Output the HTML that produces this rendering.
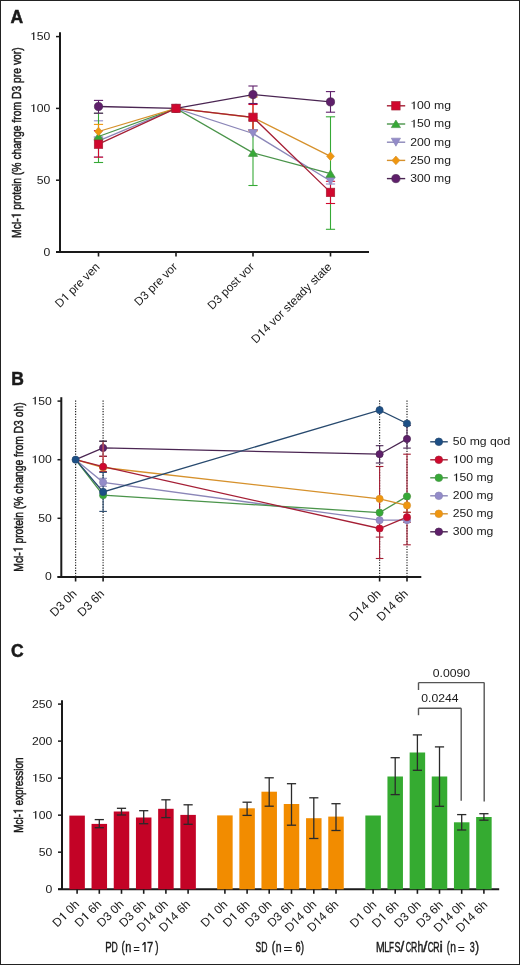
<!DOCTYPE html>
<html><head><meta charset="utf-8"><style>
html,body{margin:0;padding:0;background:#fff;}
svg{display:block;font-family:"Liberation Sans", sans-serif;will-change:transform;font-kerning:none;}
</style></head><body>
<svg width="520" height="965" viewBox="0 0 520 965">
<rect x="0.5" y="0.5" width="519" height="964" fill="#fff" stroke="#222" stroke-width="1"/>
<text x="10.60" y="22.80" font-size="17.5" text-anchor="start" fill="#1a1a1a" font-weight="bold" stroke="#1a1a1a" stroke-width="0.5">A</text>
<text x="11.20" y="384.90" font-size="17.5" text-anchor="start" fill="#1a1a1a" font-weight="bold" stroke="#1a1a1a" stroke-width="0.5">B</text>
<text x="11.10" y="656.80" font-size="17.5" text-anchor="start" fill="#1a1a1a" font-weight="bold" stroke="#1a1a1a" stroke-width="0.5">C</text>
<line x1="60.00" y1="32.30" x2="60.00" y2="253.00" stroke="#1a1a1a" stroke-width="2" />
<line x1="56.00" y1="252.00" x2="369.00" y2="252.00" stroke="#1a1a1a" stroke-width="2" />
<line x1="56.00" y1="252.00" x2="60.00" y2="252.00" stroke="#1a1a1a" stroke-width="1.5" />
<g transform="translate(50.30,255.50) scale(1.11,1)"><text x="-6.12" y="0" font-size="11" fill="#1a1a1a" >0</text></g>
<line x1="56.00" y1="180.20" x2="60.00" y2="180.20" stroke="#1a1a1a" stroke-width="1.5" />
<g transform="translate(50.30,183.70) scale(1.11,1)"><text x="-12.24" y="0" font-size="11" fill="#1a1a1a" >50</text></g>
<line x1="56.00" y1="108.40" x2="60.00" y2="108.40" stroke="#1a1a1a" stroke-width="1.5" />
<g transform="translate(50.30,111.90) scale(1.11,1)"><text x="-18.35" y="0" font-size="11" fill="#1a1a1a" > 00</text><path d="M-14.37,0.00 L-14.37,-7.73 L-15.14,-7.73 C-15.36,-7.04 -16.10,-6.51 -17.24,-6.45 L-17.24,-5.74 C-16.37,-5.79 -15.77,-6.00 -15.47,-6.31 L-15.47,0.00 Z" fill="#1a1a1a" /></g>
<line x1="56.00" y1="36.60" x2="60.00" y2="36.60" stroke="#1a1a1a" stroke-width="1.5" />
<g transform="translate(50.30,40.10) scale(1.11,1)"><text x="-18.35" y="0" font-size="11" fill="#1a1a1a" > 50</text><path d="M-14.37,0.00 L-14.37,-7.73 L-15.14,-7.73 C-15.36,-7.04 -16.10,-6.51 -17.24,-6.45 L-17.24,-5.74 C-16.37,-5.79 -15.77,-6.00 -15.47,-6.31 L-15.47,0.00 Z" fill="#1a1a1a" /></g>
<line x1="98.50" y1="252.00" x2="98.50" y2="256.50" stroke="#1a1a1a" stroke-width="1.6" />
<line x1="176.00" y1="252.00" x2="176.00" y2="256.50" stroke="#1a1a1a" stroke-width="1.6" />
<line x1="253.00" y1="252.00" x2="253.00" y2="256.50" stroke="#1a1a1a" stroke-width="1.6" />
<line x1="330.50" y1="252.00" x2="330.50" y2="256.50" stroke="#1a1a1a" stroke-width="1.6" />
<g transform="translate(100.50,267.50) rotate(-45)"><text x="-57.72" y="0" font-size="11.8" fill="#1a1a1a" >D  pre ven</text><path d="M-44.93,0.00 L-44.93,-8.30 L-45.75,-8.30 C-45.99,-7.55 -46.78,-6.99 -48.01,-6.91 L-48.01,-6.16 C-47.08,-6.21 -46.43,-6.43 -46.11,-6.77 L-46.11,0.00 Z" fill="#1a1a1a" /></g>
<g transform="translate(178.00,267.50) rotate(-45)"><text x="-55.09" y="0" font-size="11.8" fill="#1a1a1a" >D3 pre vor</text></g>
<g transform="translate(255.00,267.50) rotate(-45)"><text x="-60.34" y="0" font-size="11.8" fill="#1a1a1a" >D3 post vor</text></g>
<g transform="translate(332.50,267.50) rotate(-45)"><text x="-108.22" y="0" font-size="11.8" fill="#1a1a1a" >D 4 vor steady state</text><path d="M-95.43,0.00 L-95.43,-8.30 L-96.26,-8.30 C-96.49,-7.55 -97.28,-6.99 -98.51,-6.91 L-98.51,-6.16 C-97.58,-6.21 -96.93,-6.43 -96.61,-6.77 L-96.61,0.00 Z" fill="#1a1a1a" /></g>
<g transform="translate(20.8,142.5) rotate(-90) scale(0.7983,1)"><text x="-119.57" y="0" font-size="13" fill="#1a1a1a" stroke="#1a1a1a" stroke-width="0.5">Mcl-  protein (% change from D3 pre vor)</text><path d="M-90.32,0.00 L-90.32,-9.14 L-91.23,-9.14 C-91.49,-8.32 -92.36,-7.70 -93.71,-7.62 L-93.71,-6.79 C-92.68,-6.84 -91.97,-7.09 -91.62,-7.46 L-91.62,0.00 Z" fill="#1a1a1a" stroke="#1a1a1a" stroke-width="0.5"/></g>
<line x1="98.50" y1="120.80" x2="98.50" y2="156.90" stroke="#938bc9" stroke-width="1.1" />
<line x1="93.90" y1="120.80" x2="103.10" y2="120.80" stroke="#938bc9" stroke-width="1.1" />
<line x1="93.90" y1="156.90" x2="103.10" y2="156.90" stroke="#938bc9" stroke-width="1.1" />
<line x1="330.50" y1="178.00" x2="330.50" y2="184.00" stroke="#938bc9" stroke-width="1.1" />
<line x1="325.90" y1="178.00" x2="335.10" y2="178.00" stroke="#938bc9" stroke-width="1.1" />
<line x1="325.90" y1="184.00" x2="335.10" y2="184.00" stroke="#938bc9" stroke-width="1.1" />
<line x1="98.50" y1="113.30" x2="98.50" y2="162.50" stroke="#36a936" stroke-width="1.1" />
<line x1="93.90" y1="113.30" x2="103.10" y2="113.30" stroke="#36a936" stroke-width="1.1" />
<line x1="93.90" y1="162.50" x2="103.10" y2="162.50" stroke="#36a936" stroke-width="1.1" />
<line x1="253.00" y1="120.10" x2="253.00" y2="185.50" stroke="#36a936" stroke-width="1.1" />
<line x1="248.40" y1="120.10" x2="257.60" y2="120.10" stroke="#36a936" stroke-width="1.1" />
<line x1="248.40" y1="185.50" x2="257.60" y2="185.50" stroke="#36a936" stroke-width="1.1" />
<line x1="330.50" y1="116.80" x2="330.50" y2="229.30" stroke="#36a936" stroke-width="1.1" />
<line x1="325.90" y1="116.80" x2="335.10" y2="116.80" stroke="#36a936" stroke-width="1.1" />
<line x1="325.90" y1="229.30" x2="335.10" y2="229.30" stroke="#36a936" stroke-width="1.1" />
<line x1="98.50" y1="124.40" x2="98.50" y2="138.60" stroke="#f0960f" stroke-width="1.1" />
<line x1="93.90" y1="124.40" x2="103.10" y2="124.40" stroke="#f0960f" stroke-width="1.1" />
<line x1="93.90" y1="138.60" x2="103.10" y2="138.60" stroke="#f0960f" stroke-width="1.1" />
<line x1="253.00" y1="97.00" x2="253.00" y2="131.00" stroke="#f0960f" stroke-width="1.1" />
<line x1="248.40" y1="97.00" x2="257.60" y2="97.00" stroke="#f0960f" stroke-width="1.1" />
<line x1="248.40" y1="131.00" x2="257.60" y2="131.00" stroke="#f0960f" stroke-width="1.1" />
<line x1="98.50" y1="100.40" x2="98.50" y2="113.20" stroke="#5f1f6b" stroke-width="1.1" />
<line x1="93.90" y1="100.40" x2="103.10" y2="100.40" stroke="#5f1f6b" stroke-width="1.1" />
<line x1="93.90" y1="113.20" x2="103.10" y2="113.20" stroke="#5f1f6b" stroke-width="1.1" />
<line x1="253.00" y1="86.00" x2="253.00" y2="103.50" stroke="#5f1f6b" stroke-width="1.1" />
<line x1="248.40" y1="86.00" x2="257.60" y2="86.00" stroke="#5f1f6b" stroke-width="1.1" />
<line x1="248.40" y1="103.50" x2="257.60" y2="103.50" stroke="#5f1f6b" stroke-width="1.1" />
<line x1="330.50" y1="91.60" x2="330.50" y2="112.20" stroke="#5f1f6b" stroke-width="1.1" />
<line x1="325.90" y1="91.60" x2="335.10" y2="91.60" stroke="#5f1f6b" stroke-width="1.1" />
<line x1="325.90" y1="112.20" x2="335.10" y2="112.20" stroke="#5f1f6b" stroke-width="1.1" />
<line x1="98.50" y1="130.70" x2="98.50" y2="157.20" stroke="#d0082e" stroke-width="1.1" />
<line x1="93.90" y1="130.70" x2="103.10" y2="130.70" stroke="#d0082e" stroke-width="1.1" />
<line x1="93.90" y1="157.20" x2="103.10" y2="157.20" stroke="#d0082e" stroke-width="1.1" />
<line x1="253.00" y1="104.50" x2="253.00" y2="130.00" stroke="#d0082e" stroke-width="1.1" />
<line x1="248.40" y1="104.50" x2="257.60" y2="104.50" stroke="#d0082e" stroke-width="1.1" />
<line x1="248.40" y1="130.00" x2="257.60" y2="130.00" stroke="#d0082e" stroke-width="1.1" />
<line x1="330.50" y1="181.30" x2="330.50" y2="203.50" stroke="#d0082e" stroke-width="1.1" />
<line x1="325.90" y1="181.30" x2="335.10" y2="181.30" stroke="#d0082e" stroke-width="1.1" />
<line x1="325.90" y1="203.50" x2="335.10" y2="203.50" stroke="#d0082e" stroke-width="1.1" />
<polyline points="98.50,140.80 176.00,108.40 253.00,133.50 330.50,181.00" fill="none" stroke="#8b86b8" stroke-width="1.3"/>
<polyline points="98.50,136.50 176.00,108.40 253.00,152.80 330.50,173.70" fill="none" stroke="#4a944a" stroke-width="1.3"/>
<polyline points="98.50,131.50 176.00,108.40 253.00,117.50 330.50,156.30" fill="none" stroke="#d6912c" stroke-width="1.3"/>
<polyline points="98.50,106.50 176.00,108.40 253.00,94.60 330.50,101.90" fill="none" stroke="#4a2552" stroke-width="1.3"/>
<polyline points="98.50,144.20 176.00,108.40 253.00,117.30 330.50,192.40" fill="none" stroke="#a51f35" stroke-width="1.3"/>
<polygon points="98.50,144.80 103.10,136.80 93.90,136.80" fill="#938bc9" stroke="#8b86b8" stroke-width="0.7"/>
<polygon points="176.00,112.40 180.60,104.40 171.40,104.40" fill="#938bc9" stroke="#8b86b8" stroke-width="0.7"/>
<polygon points="253.00,137.50 257.60,129.50 248.40,129.50" fill="#938bc9" stroke="#8b86b8" stroke-width="0.7"/>
<polygon points="330.50,185.00 335.10,177.00 325.90,177.00" fill="#938bc9" stroke="#8b86b8" stroke-width="0.7"/>
<polygon points="98.50,132.60 103.10,140.10 93.90,140.10" fill="#36a936" stroke="#4a944a" stroke-width="0.7"/>
<polygon points="176.00,104.50 180.60,112.00 171.40,112.00" fill="#36a936" stroke="#4a944a" stroke-width="0.7"/>
<polygon points="253.00,148.90 257.60,156.40 248.40,156.40" fill="#36a936" stroke="#4a944a" stroke-width="0.7"/>
<polygon points="330.50,169.80 335.10,177.30 325.90,177.30" fill="#36a936" stroke="#4a944a" stroke-width="0.7"/>
<polygon points="98.50,127.20 102.40,131.50 98.50,135.80 94.60,131.50" fill="#f0960f" stroke="#d6912c" stroke-width="0.7"/>
<polygon points="176.00,104.10 179.90,108.40 176.00,112.70 172.10,108.40" fill="#f0960f" stroke="#d6912c" stroke-width="0.7"/>
<polygon points="253.00,113.20 256.90,117.50 253.00,121.80 249.10,117.50" fill="#f0960f" stroke="#d6912c" stroke-width="0.7"/>
<polygon points="330.50,152.00 334.40,156.30 330.50,160.60 326.60,156.30" fill="#f0960f" stroke="#d6912c" stroke-width="0.7"/>
<circle cx="98.50" cy="106.50" r="4.1" fill="#5f1f6b" stroke="#4a2552" stroke-width="0.7"/>
<circle cx="176.00" cy="108.40" r="4.1" fill="#5f1f6b" stroke="#4a2552" stroke-width="0.7"/>
<circle cx="253.00" cy="94.60" r="4.1" fill="#5f1f6b" stroke="#4a2552" stroke-width="0.7"/>
<circle cx="330.50" cy="101.90" r="4.1" fill="#5f1f6b" stroke="#4a2552" stroke-width="0.7"/>
<rect x="94.30" y="140.00" width="8.40" height="8.40" fill="#d0082e" stroke="#a51f35" stroke-width="0.7"/>
<rect x="171.80" y="104.20" width="8.40" height="8.40" fill="#d0082e" stroke="#a51f35" stroke-width="0.7"/>
<rect x="248.80" y="113.10" width="8.40" height="8.40" fill="#d0082e" stroke="#a51f35" stroke-width="0.7"/>
<rect x="326.30" y="188.20" width="8.40" height="8.40" fill="#d0082e" stroke="#a51f35" stroke-width="0.7"/>
<line x1="386.90" y1="105.80" x2="405.20" y2="105.80" stroke="#a51f35" stroke-width="1.4" />
<rect x="391.70" y="101.60" width="8.40" height="8.40" fill="#d0082e" stroke="#a51f35" stroke-width="0.7"/>
<g transform="translate(410.30,109.20) scale(1.11,1)"><text x="0.00" y="0" font-size="11" fill="#1a1a1a" > 00 mg</text><path d="M3.98,0.00 L3.98,-7.73 L3.21,-7.73 C2.99,-7.04 2.25,-6.51 1.11,-6.45 L1.11,-5.74 C1.98,-5.79 2.58,-6.00 2.88,-6.31 L2.88,0.00 Z" fill="#1a1a1a" /></g>
<line x1="386.90" y1="124.00" x2="405.20" y2="124.00" stroke="#4a944a" stroke-width="1.4" />
<polygon points="395.90,120.10 400.50,127.60 391.30,127.60" fill="#36a936" stroke="#4a944a" stroke-width="0.7"/>
<g transform="translate(410.30,127.40) scale(1.11,1)"><text x="0.00" y="0" font-size="11" fill="#1a1a1a" > 50 mg</text><path d="M3.98,0.00 L3.98,-7.73 L3.21,-7.73 C2.99,-7.04 2.25,-6.51 1.11,-6.45 L1.11,-5.74 C1.98,-5.79 2.58,-6.00 2.88,-6.31 L2.88,0.00 Z" fill="#1a1a1a" /></g>
<line x1="386.90" y1="142.20" x2="405.20" y2="142.20" stroke="#8b86b8" stroke-width="1.4" />
<polygon points="395.90,146.20 400.50,138.20 391.30,138.20" fill="#938bc9" stroke="#8b86b8" stroke-width="0.7"/>
<g transform="translate(410.30,145.60) scale(1.11,1)"><text x="0.00" y="0" font-size="11" fill="#1a1a1a" >200 mg</text></g>
<line x1="386.90" y1="160.40" x2="405.20" y2="160.40" stroke="#d6912c" stroke-width="1.4" />
<polygon points="395.90,156.10 399.80,160.40 395.90,164.70 392.00,160.40" fill="#f0960f" stroke="#d6912c" stroke-width="0.7"/>
<g transform="translate(410.30,163.80) scale(1.11,1)"><text x="0.00" y="0" font-size="11" fill="#1a1a1a" >250 mg</text></g>
<line x1="386.90" y1="178.60" x2="405.20" y2="178.60" stroke="#4a2552" stroke-width="1.4" />
<circle cx="395.90" cy="178.60" r="4.1" fill="#5f1f6b" stroke="#4a2552" stroke-width="0.7"/>
<g transform="translate(410.30,182.00) scale(1.11,1)"><text x="0.00" y="0" font-size="11" fill="#1a1a1a" >300 mg</text></g>
<line x1="61.30" y1="397.20" x2="61.30" y2="578.00" stroke="#1a1a1a" stroke-width="2" />
<line x1="57.50" y1="577.00" x2="421.30" y2="577.00" stroke="#1a1a1a" stroke-width="2" />
<line x1="57.50" y1="576.90" x2="61.30" y2="576.90" stroke="#1a1a1a" stroke-width="1.5" />
<g transform="translate(51.80,580.40) scale(1.11,1)"><text x="-6.12" y="0" font-size="11" fill="#1a1a1a" >0</text></g>
<line x1="57.50" y1="518.30" x2="61.30" y2="518.30" stroke="#1a1a1a" stroke-width="1.5" />
<g transform="translate(51.80,521.80) scale(1.11,1)"><text x="-12.24" y="0" font-size="11" fill="#1a1a1a" >50</text></g>
<line x1="57.50" y1="459.70" x2="61.30" y2="459.70" stroke="#1a1a1a" stroke-width="1.5" />
<g transform="translate(51.80,463.20) scale(1.11,1)"><text x="-18.35" y="0" font-size="11" fill="#1a1a1a" > 00</text><path d="M-14.37,0.00 L-14.37,-7.73 L-15.14,-7.73 C-15.36,-7.04 -16.10,-6.51 -17.24,-6.45 L-17.24,-5.74 C-16.37,-5.79 -15.77,-6.00 -15.47,-6.31 L-15.47,0.00 Z" fill="#1a1a1a" /></g>
<line x1="57.50" y1="401.10" x2="61.30" y2="401.10" stroke="#1a1a1a" stroke-width="1.5" />
<g transform="translate(51.80,404.60) scale(1.11,1)"><text x="-18.35" y="0" font-size="11" fill="#1a1a1a" > 50</text><path d="M-14.37,0.00 L-14.37,-7.73 L-15.14,-7.73 C-15.36,-7.04 -16.10,-6.51 -17.24,-6.45 L-17.24,-5.74 C-16.37,-5.79 -15.77,-6.00 -15.47,-6.31 L-15.47,0.00 Z" fill="#1a1a1a" /></g>
<line x1="75.60" y1="577.00" x2="75.60" y2="581.50" stroke="#1a1a1a" stroke-width="1.6" />
<line x1="75.60" y1="400.50" x2="75.60" y2="577.00" stroke="#222" stroke-width="1.2" stroke-dasharray="1.2,1.45"/>
<line x1="103.10" y1="577.00" x2="103.10" y2="581.50" stroke="#1a1a1a" stroke-width="1.6" />
<line x1="103.10" y1="400.50" x2="103.10" y2="577.00" stroke="#222" stroke-width="1.2" stroke-dasharray="1.2,1.45"/>
<line x1="379.60" y1="577.00" x2="379.60" y2="581.50" stroke="#1a1a1a" stroke-width="1.6" />
<line x1="379.60" y1="400.50" x2="379.60" y2="577.00" stroke="#222" stroke-width="1.2" stroke-dasharray="1.2,1.45"/>
<line x1="407.00" y1="577.00" x2="407.00" y2="581.50" stroke="#1a1a1a" stroke-width="1.6" />
<line x1="407.00" y1="400.50" x2="407.00" y2="577.00" stroke="#222" stroke-width="1.2" stroke-dasharray="1.2,1.45"/>
<g transform="translate(77.40,594.50) rotate(-45)"><text x="-32.02" y="0" font-size="12" fill="#1a1a1a" >D3 0h</text></g>
<g transform="translate(104.90,594.50) rotate(-45)"><text x="-32.02" y="0" font-size="12" fill="#1a1a1a" >D3 6h</text></g>
<g transform="translate(381.40,594.50) rotate(-45)"><text x="-38.70" y="0" font-size="12" fill="#1a1a1a" >D 4 0h</text><path d="M-25.69,0.00 L-25.69,-8.44 L-26.53,-8.44 C-26.77,-7.68 -27.57,-7.10 -28.82,-7.03 L-28.82,-6.26 C-27.87,-6.31 -27.21,-6.54 -26.89,-6.89 L-26.89,0.00 Z" fill="#1a1a1a" /></g>
<g transform="translate(408.80,594.50) rotate(-45)"><text x="-38.70" y="0" font-size="12" fill="#1a1a1a" >D 4 6h</text><path d="M-25.69,0.00 L-25.69,-8.44 L-26.53,-8.44 C-26.77,-7.68 -27.57,-7.10 -28.82,-7.03 L-28.82,-6.26 C-27.87,-6.31 -27.21,-6.54 -26.89,-6.89 L-26.89,0.00 Z" fill="#1a1a1a" /></g>
<g transform="translate(22.5,487) rotate(-90) scale(0.7948,1)"><text x="-106.57" y="0" font-size="13" fill="#1a1a1a" stroke="#1a1a1a" stroke-width="0.5">Mcl-  protein (% change from D3 oh)</text><path d="M-77.32,0.00 L-77.32,-9.14 L-78.23,-9.14 C-78.49,-8.32 -79.36,-7.70 -80.71,-7.62 L-80.71,-6.79 C-79.68,-6.84 -78.97,-7.09 -78.62,-7.46 L-78.62,0.00 Z" fill="#1a1a1a" stroke="#1a1a1a" stroke-width="0.5"/></g>
<line x1="103.10" y1="478.30" x2="103.10" y2="486.30" stroke="#8b86b8" stroke-width="1.1" />
<line x1="99.30" y1="478.30" x2="106.90" y2="478.30" stroke="#8b86b8" stroke-width="1.1" />
<line x1="99.30" y1="486.30" x2="106.90" y2="486.30" stroke="#8b86b8" stroke-width="1.1" />
<line x1="407.00" y1="496.00" x2="407.00" y2="512.30" stroke="#d6912c" stroke-width="1.1" />
<line x1="403.20" y1="496.00" x2="410.80" y2="496.00" stroke="#d6912c" stroke-width="1.1" />
<line x1="403.20" y1="512.30" x2="410.80" y2="512.30" stroke="#d6912c" stroke-width="1.1" />
<line x1="103.10" y1="441.20" x2="103.10" y2="456.30" stroke="#4a2552" stroke-width="1.1" />
<line x1="99.30" y1="441.20" x2="106.90" y2="441.20" stroke="#4a2552" stroke-width="1.1" />
<line x1="99.30" y1="456.30" x2="106.90" y2="456.30" stroke="#4a2552" stroke-width="1.1" />
<line x1="379.60" y1="445.70" x2="379.60" y2="463.00" stroke="#4a2552" stroke-width="1.1" />
<line x1="375.80" y1="445.70" x2="383.40" y2="445.70" stroke="#4a2552" stroke-width="1.1" />
<line x1="375.80" y1="463.00" x2="383.40" y2="463.00" stroke="#4a2552" stroke-width="1.1" />
<line x1="407.00" y1="425.50" x2="407.00" y2="448.10" stroke="#4a2552" stroke-width="1.1" />
<line x1="403.20" y1="425.50" x2="410.80" y2="425.50" stroke="#4a2552" stroke-width="1.1" />
<line x1="403.20" y1="448.10" x2="410.80" y2="448.10" stroke="#4a2552" stroke-width="1.1" />
<line x1="103.10" y1="456.30" x2="103.10" y2="471.50" stroke="#a51f35" stroke-width="1.1" />
<line x1="99.30" y1="456.30" x2="106.90" y2="456.30" stroke="#a51f35" stroke-width="1.1" />
<line x1="99.30" y1="471.50" x2="106.90" y2="471.50" stroke="#a51f35" stroke-width="1.1" />
<line x1="379.60" y1="466.50" x2="379.60" y2="558.50" stroke="#a51f35" stroke-width="1.1" />
<line x1="375.80" y1="466.50" x2="383.40" y2="466.50" stroke="#a51f35" stroke-width="1.1" />
<line x1="375.80" y1="558.50" x2="383.40" y2="558.50" stroke="#a51f35" stroke-width="1.1" />
<line x1="407.00" y1="454.20" x2="407.00" y2="544.80" stroke="#a51f35" stroke-width="1.1" />
<line x1="403.20" y1="454.20" x2="410.80" y2="454.20" stroke="#a51f35" stroke-width="1.1" />
<line x1="403.20" y1="544.80" x2="410.80" y2="544.80" stroke="#a51f35" stroke-width="1.1" />
<line x1="103.10" y1="472.40" x2="103.10" y2="511.40" stroke="#27496e" stroke-width="1.1" />
<line x1="99.30" y1="472.40" x2="106.90" y2="472.40" stroke="#27496e" stroke-width="1.1" />
<line x1="99.30" y1="511.40" x2="106.90" y2="511.40" stroke="#27496e" stroke-width="1.1" />
<line x1="375.80" y1="537.10" x2="383.40" y2="537.10" stroke="#a51f35" stroke-width="1.1" />
<line x1="403.20" y1="522.30" x2="410.80" y2="522.30" stroke="#a51f35" stroke-width="1.1" />
<line x1="403.20" y1="512.30" x2="410.80" y2="512.30" stroke="#a51f35" stroke-width="1.1" />
<polyline points="75.60,459.70 103.10,482.30 379.60,520.20 407.00,520.20" fill="none" stroke="#8b86b8" stroke-width="1.3"/>
<polyline points="75.60,459.70 103.10,495.20 379.60,512.60 407.00,496.40" fill="none" stroke="#4a944a" stroke-width="1.3"/>
<polyline points="75.60,459.70 103.10,467.50 379.60,498.80 407.00,505.40" fill="none" stroke="#d6912c" stroke-width="1.3"/>
<polyline points="75.60,459.70 103.10,447.90 379.60,454.20 407.00,438.90" fill="none" stroke="#4a2552" stroke-width="1.3"/>
<polyline points="75.60,459.70 103.10,466.70 379.60,528.50 407.00,517.20" fill="none" stroke="#a51f35" stroke-width="1.3"/>
<polyline points="75.60,459.70 103.10,491.90 379.60,410.10 407.00,423.50" fill="none" stroke="#27496e" stroke-width="1.3"/>
<circle cx="103.10" cy="482.30" r="3.6" fill="#938bc9" stroke="#8b86b8" stroke-width="0.7"/>
<circle cx="379.60" cy="520.20" r="3.6" fill="#938bc9" stroke="#8b86b8" stroke-width="0.7"/>
<circle cx="407.00" cy="520.20" r="3.6" fill="#938bc9" stroke="#8b86b8" stroke-width="0.7"/>
<circle cx="103.10" cy="495.20" r="3.6" fill="#36a936" stroke="#4a944a" stroke-width="0.7"/>
<circle cx="379.60" cy="512.60" r="3.6" fill="#36a936" stroke="#4a944a" stroke-width="0.7"/>
<circle cx="407.00" cy="496.40" r="3.6" fill="#36a936" stroke="#4a944a" stroke-width="0.7"/>
<circle cx="103.10" cy="467.50" r="3.6" fill="#f0960f" stroke="#d6912c" stroke-width="0.7"/>
<circle cx="379.60" cy="498.80" r="3.6" fill="#f0960f" stroke="#d6912c" stroke-width="0.7"/>
<circle cx="407.00" cy="505.40" r="3.6" fill="#f0960f" stroke="#d6912c" stroke-width="0.7"/>
<circle cx="103.10" cy="447.90" r="3.6" fill="#5f1f6b" stroke="#4a2552" stroke-width="0.7"/>
<circle cx="379.60" cy="454.20" r="3.6" fill="#5f1f6b" stroke="#4a2552" stroke-width="0.7"/>
<circle cx="407.00" cy="438.90" r="3.6" fill="#5f1f6b" stroke="#4a2552" stroke-width="0.7"/>
<circle cx="103.10" cy="466.70" r="3.6" fill="#d0082e" stroke="#a51f35" stroke-width="0.7"/>
<circle cx="379.60" cy="528.50" r="3.6" fill="#d0082e" stroke="#a51f35" stroke-width="0.7"/>
<circle cx="407.00" cy="517.20" r="3.6" fill="#d0082e" stroke="#a51f35" stroke-width="0.7"/>
<circle cx="75.60" cy="459.70" r="3.6" fill="#1c4f86" stroke="#27496e" stroke-width="0.7"/>
<circle cx="103.10" cy="491.90" r="3.6" fill="#1c4f86" stroke="#27496e" stroke-width="0.7"/>
<circle cx="379.60" cy="410.10" r="3.6" fill="#1c4f86" stroke="#27496e" stroke-width="0.7"/>
<circle cx="407.00" cy="423.50" r="3.6" fill="#1c4f86" stroke="#27496e" stroke-width="0.7"/>
<line x1="103.10" y1="441.50" x2="103.10" y2="463.00" stroke="#d9605a" stroke-width="1.1" />
<line x1="99.30" y1="441.20" x2="106.90" y2="441.20" stroke="#3a2a3a" stroke-width="1.1" />
<line x1="430.20" y1="441.80" x2="447.80" y2="441.80" stroke="#27496e" stroke-width="1.4" />
<circle cx="438.80" cy="441.80" r="3.8" fill="#1c4f86" stroke="#27496e" stroke-width="0.7"/>
<g transform="translate(452.70,445.20) scale(1.11,1)"><text x="0.00" y="0" font-size="11" fill="#1a1a1a" >50 mg qod</text></g>
<line x1="430.20" y1="459.80" x2="447.80" y2="459.80" stroke="#a51f35" stroke-width="1.4" />
<circle cx="438.80" cy="459.80" r="3.8" fill="#d0082e" stroke="#a51f35" stroke-width="0.7"/>
<g transform="translate(452.70,463.20) scale(1.11,1)"><text x="0.00" y="0" font-size="11" fill="#1a1a1a" > 00 mg</text><path d="M3.98,0.00 L3.98,-7.73 L3.21,-7.73 C2.99,-7.04 2.25,-6.51 1.11,-6.45 L1.11,-5.74 C1.98,-5.79 2.58,-6.00 2.88,-6.31 L2.88,0.00 Z" fill="#1a1a1a" /></g>
<line x1="430.20" y1="477.80" x2="447.80" y2="477.80" stroke="#4a944a" stroke-width="1.4" />
<circle cx="438.80" cy="477.80" r="3.8" fill="#36a936" stroke="#4a944a" stroke-width="0.7"/>
<g transform="translate(452.70,481.20) scale(1.11,1)"><text x="0.00" y="0" font-size="11" fill="#1a1a1a" > 50 mg</text><path d="M3.98,0.00 L3.98,-7.73 L3.21,-7.73 C2.99,-7.04 2.25,-6.51 1.11,-6.45 L1.11,-5.74 C1.98,-5.79 2.58,-6.00 2.88,-6.31 L2.88,0.00 Z" fill="#1a1a1a" /></g>
<line x1="430.20" y1="495.80" x2="447.80" y2="495.80" stroke="#8b86b8" stroke-width="1.4" />
<circle cx="438.80" cy="495.80" r="3.8" fill="#938bc9" stroke="#8b86b8" stroke-width="0.7"/>
<g transform="translate(452.70,499.20) scale(1.11,1)"><text x="0.00" y="0" font-size="11" fill="#1a1a1a" >200 mg</text></g>
<line x1="430.20" y1="513.80" x2="447.80" y2="513.80" stroke="#d6912c" stroke-width="1.4" />
<circle cx="438.80" cy="513.80" r="3.8" fill="#f0960f" stroke="#d6912c" stroke-width="0.7"/>
<g transform="translate(452.70,517.20) scale(1.11,1)"><text x="0.00" y="0" font-size="11" fill="#1a1a1a" >250 mg</text></g>
<line x1="430.20" y1="531.80" x2="447.80" y2="531.80" stroke="#4a2552" stroke-width="1.4" />
<circle cx="438.80" cy="531.80" r="3.8" fill="#5f1f6b" stroke="#4a2552" stroke-width="0.7"/>
<g transform="translate(452.70,535.20) scale(1.11,1)"><text x="0.00" y="0" font-size="11" fill="#1a1a1a" >300 mg</text></g>
<line x1="62.00" y1="700.20" x2="62.00" y2="890.00" stroke="#1a1a1a" stroke-width="2" />
<line x1="58.00" y1="889.30" x2="499.20" y2="889.30" stroke="#1a1a1a" stroke-width="2" />
<line x1="58.00" y1="889.20" x2="62.00" y2="889.20" stroke="#1a1a1a" stroke-width="1.5" />
<g transform="translate(52.30,892.70) scale(1.11,1)"><text x="-6.12" y="0" font-size="11" fill="#1a1a1a" >0</text></g>
<line x1="58.00" y1="852.18" x2="62.00" y2="852.18" stroke="#1a1a1a" stroke-width="1.5" />
<g transform="translate(52.30,855.68) scale(1.11,1)"><text x="-12.24" y="0" font-size="11" fill="#1a1a1a" >50</text></g>
<line x1="58.00" y1="815.16" x2="62.00" y2="815.16" stroke="#1a1a1a" stroke-width="1.5" />
<g transform="translate(52.30,818.66) scale(1.11,1)"><text x="-18.35" y="0" font-size="11" fill="#1a1a1a" > 00</text><path d="M-14.37,0.00 L-14.37,-7.73 L-15.14,-7.73 C-15.36,-7.04 -16.10,-6.51 -17.24,-6.45 L-17.24,-5.74 C-16.37,-5.79 -15.77,-6.00 -15.47,-6.31 L-15.47,0.00 Z" fill="#1a1a1a" /></g>
<line x1="58.00" y1="778.14" x2="62.00" y2="778.14" stroke="#1a1a1a" stroke-width="1.5" />
<g transform="translate(52.30,781.64) scale(1.11,1)"><text x="-18.35" y="0" font-size="11" fill="#1a1a1a" > 50</text><path d="M-14.37,0.00 L-14.37,-7.73 L-15.14,-7.73 C-15.36,-7.04 -16.10,-6.51 -17.24,-6.45 L-17.24,-5.74 C-16.37,-5.79 -15.77,-6.00 -15.47,-6.31 L-15.47,0.00 Z" fill="#1a1a1a" /></g>
<line x1="58.00" y1="741.12" x2="62.00" y2="741.12" stroke="#1a1a1a" stroke-width="1.5" />
<g transform="translate(52.30,744.62) scale(1.11,1)"><text x="-18.35" y="0" font-size="11" fill="#1a1a1a" >200</text></g>
<line x1="58.00" y1="704.10" x2="62.00" y2="704.10" stroke="#1a1a1a" stroke-width="1.5" />
<g transform="translate(52.30,707.60) scale(1.11,1)"><text x="-18.35" y="0" font-size="11" fill="#1a1a1a" >250</text></g>
<rect x="69.35" y="815.60" width="15.5" height="73.70" fill="#c30326"/>
<rect x="91.55" y="823.90" width="15.5" height="65.40" fill="#c30326"/>
<rect x="113.75" y="811.50" width="15.5" height="77.80" fill="#c30326"/>
<rect x="135.95" y="817.50" width="15.5" height="71.80" fill="#c30326"/>
<rect x="158.15" y="808.80" width="15.5" height="80.50" fill="#c30326"/>
<rect x="180.35" y="814.90" width="15.5" height="74.40" fill="#c30326"/>
<line x1="99.30" y1="819.60" x2="99.30" y2="827.70" stroke="#2a2a2a" stroke-width="1.3" />
<line x1="94.70" y1="819.60" x2="103.90" y2="819.60" stroke="#2a2a2a" stroke-width="1.3" />
<line x1="94.70" y1="827.70" x2="103.90" y2="827.70" stroke="#2a2a2a" stroke-width="1.3" />
<line x1="121.50" y1="808.30" x2="121.50" y2="815.00" stroke="#2a2a2a" stroke-width="1.3" />
<line x1="116.90" y1="808.30" x2="126.10" y2="808.30" stroke="#2a2a2a" stroke-width="1.3" />
<line x1="116.90" y1="815.00" x2="126.10" y2="815.00" stroke="#2a2a2a" stroke-width="1.3" />
<line x1="143.70" y1="810.70" x2="143.70" y2="823.70" stroke="#2a2a2a" stroke-width="1.3" />
<line x1="139.10" y1="810.70" x2="148.30" y2="810.70" stroke="#2a2a2a" stroke-width="1.3" />
<line x1="139.10" y1="823.70" x2="148.30" y2="823.70" stroke="#2a2a2a" stroke-width="1.3" />
<line x1="165.90" y1="799.80" x2="165.90" y2="817.60" stroke="#2a2a2a" stroke-width="1.3" />
<line x1="161.30" y1="799.80" x2="170.50" y2="799.80" stroke="#2a2a2a" stroke-width="1.3" />
<line x1="161.30" y1="817.60" x2="170.50" y2="817.60" stroke="#2a2a2a" stroke-width="1.3" />
<line x1="188.10" y1="804.80" x2="188.10" y2="824.30" stroke="#2a2a2a" stroke-width="1.3" />
<line x1="183.50" y1="804.80" x2="192.70" y2="804.80" stroke="#2a2a2a" stroke-width="1.3" />
<line x1="183.50" y1="824.30" x2="192.70" y2="824.30" stroke="#2a2a2a" stroke-width="1.3" />
<line x1="77.10" y1="889.30" x2="77.10" y2="893.80" stroke="#1a1a1a" stroke-width="1.6" />
<g transform="translate(80.00,905.10) rotate(-45)"><text x="-32.02" y="0" font-size="12" fill="#1a1a1a" >D  0h</text><path d="M-19.01,0.00 L-19.01,-8.44 L-19.85,-8.44 C-20.09,-7.68 -20.90,-7.10 -22.14,-7.03 L-22.14,-6.26 C-21.20,-6.31 -20.54,-6.54 -20.21,-6.89 L-20.21,0.00 Z" fill="#1a1a1a" /></g>
<line x1="99.30" y1="889.30" x2="99.30" y2="893.80" stroke="#1a1a1a" stroke-width="1.6" />
<g transform="translate(102.20,905.10) rotate(-45)"><text x="-32.02" y="0" font-size="12" fill="#1a1a1a" >D  6h</text><path d="M-19.01,0.00 L-19.01,-8.44 L-19.85,-8.44 C-20.09,-7.68 -20.90,-7.10 -22.14,-7.03 L-22.14,-6.26 C-21.20,-6.31 -20.54,-6.54 -20.21,-6.89 L-20.21,0.00 Z" fill="#1a1a1a" /></g>
<line x1="121.50" y1="889.30" x2="121.50" y2="893.80" stroke="#1a1a1a" stroke-width="1.6" />
<g transform="translate(124.40,905.10) rotate(-45)"><text x="-32.02" y="0" font-size="12" fill="#1a1a1a" >D3 0h</text></g>
<line x1="143.70" y1="889.30" x2="143.70" y2="893.80" stroke="#1a1a1a" stroke-width="1.6" />
<g transform="translate(146.60,905.10) rotate(-45)"><text x="-32.02" y="0" font-size="12" fill="#1a1a1a" >D3 6h</text></g>
<line x1="165.90" y1="889.30" x2="165.90" y2="893.80" stroke="#1a1a1a" stroke-width="1.6" />
<g transform="translate(168.80,905.10) rotate(-45)"><text x="-38.70" y="0" font-size="12" fill="#1a1a1a" >D 4 0h</text><path d="M-25.69,0.00 L-25.69,-8.44 L-26.53,-8.44 C-26.77,-7.68 -27.57,-7.10 -28.82,-7.03 L-28.82,-6.26 C-27.87,-6.31 -27.21,-6.54 -26.89,-6.89 L-26.89,0.00 Z" fill="#1a1a1a" /></g>
<line x1="188.10" y1="889.30" x2="188.10" y2="893.80" stroke="#1a1a1a" stroke-width="1.6" />
<g transform="translate(191.00,905.10) rotate(-45)"><text x="-38.70" y="0" font-size="12" fill="#1a1a1a" >D 4 6h</text><path d="M-25.69,0.00 L-25.69,-8.44 L-26.53,-8.44 C-26.77,-7.68 -27.57,-7.10 -28.82,-7.03 L-28.82,-6.26 C-27.87,-6.31 -27.21,-6.54 -26.89,-6.89 L-26.89,0.00 Z" fill="#1a1a1a" /></g>
<rect x="217.15" y="815.40" width="15.5" height="73.90" fill="#f28c00"/>
<rect x="239.35" y="808.30" width="15.5" height="81.00" fill="#f28c00"/>
<rect x="261.45" y="791.70" width="15.5" height="97.60" fill="#f28c00"/>
<rect x="283.75" y="804.00" width="15.5" height="85.30" fill="#f28c00"/>
<rect x="306.05" y="818.20" width="15.5" height="71.10" fill="#f28c00"/>
<rect x="328.25" y="816.60" width="15.5" height="72.70" fill="#f28c00"/>
<line x1="247.10" y1="802.20" x2="247.10" y2="815.40" stroke="#2a2a2a" stroke-width="1.3" />
<line x1="242.50" y1="802.20" x2="251.70" y2="802.20" stroke="#2a2a2a" stroke-width="1.3" />
<line x1="242.50" y1="815.40" x2="251.70" y2="815.40" stroke="#2a2a2a" stroke-width="1.3" />
<line x1="269.20" y1="777.80" x2="269.20" y2="806.20" stroke="#2a2a2a" stroke-width="1.3" />
<line x1="264.60" y1="777.80" x2="273.80" y2="777.80" stroke="#2a2a2a" stroke-width="1.3" />
<line x1="264.60" y1="806.20" x2="273.80" y2="806.20" stroke="#2a2a2a" stroke-width="1.3" />
<line x1="291.50" y1="783.70" x2="291.50" y2="825.20" stroke="#2a2a2a" stroke-width="1.3" />
<line x1="286.90" y1="783.70" x2="296.10" y2="783.70" stroke="#2a2a2a" stroke-width="1.3" />
<line x1="286.90" y1="825.20" x2="296.10" y2="825.20" stroke="#2a2a2a" stroke-width="1.3" />
<line x1="313.80" y1="797.80" x2="313.80" y2="838.50" stroke="#2a2a2a" stroke-width="1.3" />
<line x1="309.20" y1="797.80" x2="318.40" y2="797.80" stroke="#2a2a2a" stroke-width="1.3" />
<line x1="309.20" y1="838.50" x2="318.40" y2="838.50" stroke="#2a2a2a" stroke-width="1.3" />
<line x1="336.00" y1="803.70" x2="336.00" y2="830.50" stroke="#2a2a2a" stroke-width="1.3" />
<line x1="331.40" y1="803.70" x2="340.60" y2="803.70" stroke="#2a2a2a" stroke-width="1.3" />
<line x1="331.40" y1="830.50" x2="340.60" y2="830.50" stroke="#2a2a2a" stroke-width="1.3" />
<line x1="224.90" y1="889.30" x2="224.90" y2="893.80" stroke="#1a1a1a" stroke-width="1.6" />
<g transform="translate(228.20,905.22) rotate(-45)"><text x="-32.02" y="0" font-size="12" fill="#1a1a1a" >D  0h</text><path d="M-19.01,0.00 L-19.01,-8.44 L-19.85,-8.44 C-20.09,-7.68 -20.90,-7.10 -22.14,-7.03 L-22.14,-6.26 C-21.20,-6.31 -20.54,-6.54 -20.21,-6.89 L-20.21,0.00 Z" fill="#1a1a1a" /></g>
<line x1="247.10" y1="889.30" x2="247.10" y2="893.80" stroke="#1a1a1a" stroke-width="1.6" />
<g transform="translate(250.40,905.22) rotate(-45)"><text x="-32.02" y="0" font-size="12" fill="#1a1a1a" >D  6h</text><path d="M-19.01,0.00 L-19.01,-8.44 L-19.85,-8.44 C-20.09,-7.68 -20.90,-7.10 -22.14,-7.03 L-22.14,-6.26 C-21.20,-6.31 -20.54,-6.54 -20.21,-6.89 L-20.21,0.00 Z" fill="#1a1a1a" /></g>
<line x1="269.20" y1="889.30" x2="269.20" y2="893.80" stroke="#1a1a1a" stroke-width="1.6" />
<g transform="translate(272.50,905.22) rotate(-45)"><text x="-32.02" y="0" font-size="12" fill="#1a1a1a" >D3 0h</text></g>
<line x1="291.50" y1="889.30" x2="291.50" y2="893.80" stroke="#1a1a1a" stroke-width="1.6" />
<g transform="translate(294.80,905.22) rotate(-45)"><text x="-32.02" y="0" font-size="12" fill="#1a1a1a" >D3 6h</text></g>
<line x1="313.80" y1="889.30" x2="313.80" y2="893.80" stroke="#1a1a1a" stroke-width="1.6" />
<g transform="translate(317.10,905.22) rotate(-45)"><text x="-38.70" y="0" font-size="12" fill="#1a1a1a" >D 4 0h</text><path d="M-25.69,0.00 L-25.69,-8.44 L-26.53,-8.44 C-26.77,-7.68 -27.57,-7.10 -28.82,-7.03 L-28.82,-6.26 C-27.87,-6.31 -27.21,-6.54 -26.89,-6.89 L-26.89,0.00 Z" fill="#1a1a1a" /></g>
<line x1="336.00" y1="889.30" x2="336.00" y2="893.80" stroke="#1a1a1a" stroke-width="1.6" />
<g transform="translate(339.30,905.22) rotate(-45)"><text x="-38.70" y="0" font-size="12" fill="#1a1a1a" >D 4 6h</text><path d="M-25.69,0.00 L-25.69,-8.44 L-26.53,-8.44 C-26.77,-7.68 -27.57,-7.10 -28.82,-7.03 L-28.82,-6.26 C-27.87,-6.31 -27.21,-6.54 -26.89,-6.89 L-26.89,0.00 Z" fill="#1a1a1a" /></g>
<rect x="365.35" y="815.50" width="15.5" height="73.80" fill="#35ab31"/>
<rect x="387.45" y="776.50" width="15.5" height="112.80" fill="#35ab31"/>
<rect x="409.65" y="752.50" width="15.5" height="136.80" fill="#35ab31"/>
<rect x="431.75" y="776.50" width="15.5" height="112.80" fill="#35ab31"/>
<rect x="453.95" y="822.30" width="15.5" height="67.00" fill="#35ab31"/>
<rect x="476.15" y="817.00" width="15.5" height="72.30" fill="#35ab31"/>
<line x1="395.20" y1="757.70" x2="395.20" y2="794.60" stroke="#2a2a2a" stroke-width="1.3" />
<line x1="390.60" y1="757.70" x2="399.80" y2="757.70" stroke="#2a2a2a" stroke-width="1.3" />
<line x1="390.60" y1="794.60" x2="399.80" y2="794.60" stroke="#2a2a2a" stroke-width="1.3" />
<line x1="417.40" y1="734.90" x2="417.40" y2="770.30" stroke="#2a2a2a" stroke-width="1.3" />
<line x1="412.80" y1="734.90" x2="422.00" y2="734.90" stroke="#2a2a2a" stroke-width="1.3" />
<line x1="412.80" y1="770.30" x2="422.00" y2="770.30" stroke="#2a2a2a" stroke-width="1.3" />
<line x1="439.50" y1="746.90" x2="439.50" y2="806.30" stroke="#2a2a2a" stroke-width="1.3" />
<line x1="434.90" y1="746.90" x2="444.10" y2="746.90" stroke="#2a2a2a" stroke-width="1.3" />
<line x1="434.90" y1="806.30" x2="444.10" y2="806.30" stroke="#2a2a2a" stroke-width="1.3" />
<line x1="461.70" y1="814.60" x2="461.70" y2="830.00" stroke="#2a2a2a" stroke-width="1.3" />
<line x1="457.10" y1="814.60" x2="466.30" y2="814.60" stroke="#2a2a2a" stroke-width="1.3" />
<line x1="457.10" y1="830.00" x2="466.30" y2="830.00" stroke="#2a2a2a" stroke-width="1.3" />
<line x1="483.90" y1="813.70" x2="483.90" y2="820.20" stroke="#2a2a2a" stroke-width="1.3" />
<line x1="479.30" y1="813.70" x2="488.50" y2="813.70" stroke="#2a2a2a" stroke-width="1.3" />
<line x1="479.30" y1="820.20" x2="488.50" y2="820.20" stroke="#2a2a2a" stroke-width="1.3" />
<line x1="373.10" y1="889.30" x2="373.10" y2="893.80" stroke="#1a1a1a" stroke-width="1.6" />
<g transform="translate(377.30,905.49) rotate(-45)"><text x="-32.02" y="0" font-size="12" fill="#1a1a1a" >D  0h</text><path d="M-19.01,0.00 L-19.01,-8.44 L-19.85,-8.44 C-20.09,-7.68 -20.90,-7.10 -22.14,-7.03 L-22.14,-6.26 C-21.20,-6.31 -20.54,-6.54 -20.21,-6.89 L-20.21,0.00 Z" fill="#1a1a1a" /></g>
<line x1="395.20" y1="889.30" x2="395.20" y2="893.80" stroke="#1a1a1a" stroke-width="1.6" />
<g transform="translate(399.40,905.49) rotate(-45)"><text x="-32.02" y="0" font-size="12" fill="#1a1a1a" >D  6h</text><path d="M-19.01,0.00 L-19.01,-8.44 L-19.85,-8.44 C-20.09,-7.68 -20.90,-7.10 -22.14,-7.03 L-22.14,-6.26 C-21.20,-6.31 -20.54,-6.54 -20.21,-6.89 L-20.21,0.00 Z" fill="#1a1a1a" /></g>
<line x1="417.40" y1="889.30" x2="417.40" y2="893.80" stroke="#1a1a1a" stroke-width="1.6" />
<g transform="translate(421.60,905.49) rotate(-45)"><text x="-32.02" y="0" font-size="12" fill="#1a1a1a" >D3 0h</text></g>
<line x1="439.50" y1="889.30" x2="439.50" y2="893.80" stroke="#1a1a1a" stroke-width="1.6" />
<g transform="translate(443.70,905.49) rotate(-45)"><text x="-32.02" y="0" font-size="12" fill="#1a1a1a" >D3 6h</text></g>
<line x1="461.70" y1="889.30" x2="461.70" y2="893.80" stroke="#1a1a1a" stroke-width="1.6" />
<g transform="translate(465.90,905.49) rotate(-45)"><text x="-38.70" y="0" font-size="12" fill="#1a1a1a" >D 4 0h</text><path d="M-25.69,0.00 L-25.69,-8.44 L-26.53,-8.44 C-26.77,-7.68 -27.57,-7.10 -28.82,-7.03 L-28.82,-6.26 C-27.87,-6.31 -27.21,-6.54 -26.89,-6.89 L-26.89,0.00 Z" fill="#1a1a1a" /></g>
<line x1="483.90" y1="889.30" x2="483.90" y2="893.80" stroke="#1a1a1a" stroke-width="1.6" />
<g transform="translate(488.10,905.49) rotate(-45)"><text x="-38.70" y="0" font-size="12" fill="#1a1a1a" >D 4 6h</text><path d="M-25.69,0.00 L-25.69,-8.44 L-26.53,-8.44 C-26.77,-7.68 -27.57,-7.10 -28.82,-7.03 L-28.82,-6.26 C-27.87,-6.31 -27.21,-6.54 -26.89,-6.89 L-26.89,0.00 Z" fill="#1a1a1a" /></g>
<g transform="translate(22.7,795.0) rotate(-90) scale(0.7694,1)"><text x="-49.13" y="0" font-size="13" fill="#1a1a1a" stroke="#1a1a1a" stroke-width="0.5">Mcl-  expression</text><path d="M-19.88,0.00 L-19.88,-9.14 L-20.79,-9.14 C-21.05,-8.32 -21.92,-7.70 -23.27,-7.62 L-23.27,-6.79 C-22.24,-6.84 -21.53,-7.09 -21.18,-7.46 L-21.18,0.00 Z" fill="#1a1a1a" stroke="#1a1a1a" stroke-width="0.5"/></g>
<text transform="translate(105.34,952.00) scale(0.693,1)" font-size="14" fill="#1a1a1a" stroke="#1a1a1a" stroke-width="0.42">P</text>
<text transform="translate(111.42,952.00) scale(0.619,1)" font-size="14" fill="#1a1a1a" stroke="#1a1a1a" stroke-width="0.42">D</text>
<text transform="translate(121.43,952.00) scale(0.711,1)" font-size="14" fill="#1a1a1a" stroke="#1a1a1a" stroke-width="0.42">(</text>
<text transform="translate(125.30,952.00) scale(0.783,1)" font-size="14" fill="#1a1a1a" stroke="#1a1a1a" stroke-width="0.42">n</text>
<text transform="translate(133.57,952.60) scale(0.750,0.72)" font-size="14" fill="#1a1a1a" stroke="#1a1a1a" stroke-width="0.42">=</text>
<text transform="translate(147.04,952.00) scale(0.797,1)" font-size="14" fill="#1a1a1a" stroke="#1a1a1a" stroke-width="0.42">7</text>
<text transform="translate(155.13,952.00) scale(0.703,1)" font-size="14" fill="#1a1a1a" stroke="#1a1a1a" stroke-width="0.42">)</text>
<text transform="translate(255.54,952.00) scale(0.605,1)" font-size="14" fill="#1a1a1a" stroke="#1a1a1a" stroke-width="0.42">S</text>
<text transform="translate(261.22,952.00) scale(0.619,1)" font-size="14" fill="#1a1a1a" stroke="#1a1a1a" stroke-width="0.42">D</text>
<text transform="translate(271.69,952.00) scale(0.763,1)" font-size="14" fill="#1a1a1a" stroke="#1a1a1a" stroke-width="0.42">(</text>
<text transform="translate(275.72,952.00) scale(0.750,1)" font-size="14" fill="#1a1a1a" stroke="#1a1a1a" stroke-width="0.42">n</text>
<text transform="translate(283.56,952.60) scale(1.059,0.72)" font-size="14" fill="#1a1a1a" stroke="#1a1a1a" stroke-width="0.42">=</text>
<text transform="translate(295.44,952.00) scale(0.662,1)" font-size="14" fill="#1a1a1a" stroke="#1a1a1a" stroke-width="0.42">6</text>
<text transform="translate(300.73,952.00) scale(0.703,1)" font-size="14" fill="#1a1a1a" stroke="#1a1a1a" stroke-width="0.42">)</text>
<text transform="translate(376.08,952.00) scale(0.745,1)" font-size="14" fill="#1a1a1a" stroke="#1a1a1a" stroke-width="0.42">M</text>
<text transform="translate(384.29,952.00) scale(0.645,1)" font-size="14" fill="#1a1a1a" stroke="#1a1a1a" stroke-width="0.42">L</text>
<text transform="translate(389.06,952.00) scale(0.580,1)" font-size="14" fill="#1a1a1a" stroke="#1a1a1a" stroke-width="0.42">F</text>
<text transform="translate(394.41,952.00) scale(0.642,1)" font-size="14" fill="#1a1a1a" stroke="#1a1a1a" stroke-width="0.42">S</text>
<text transform="translate(400.30,952.00) scale(1.026,1)" font-size="14" fill="#1a1a1a" stroke="#1a1a1a" stroke-width="0.42">/</text>
<text transform="translate(405.72,952.00) scale(0.539,1)" font-size="14" fill="#1a1a1a" stroke="#1a1a1a" stroke-width="0.42">C</text>
<text transform="translate(411.02,952.00) scale(0.619,1)" font-size="14" fill="#1a1a1a" stroke="#1a1a1a" stroke-width="0.42">R</text>
<text transform="translate(417.43,952.00) scale(0.750,1)" font-size="14" fill="#1a1a1a" stroke="#1a1a1a" stroke-width="0.42">h</text>
<text transform="translate(423.00,952.00) scale(1.128,1)" font-size="14" fill="#1a1a1a" stroke="#1a1a1a" stroke-width="0.42">/</text>
<text transform="translate(427.78,952.00) scale(0.596,1)" font-size="14" fill="#1a1a1a" stroke="#1a1a1a" stroke-width="0.42">C</text>
<text transform="translate(433.22,952.00) scale(0.619,1)" font-size="14" fill="#1a1a1a" stroke="#1a1a1a" stroke-width="0.42">R</text>
<text transform="translate(439.53,952.00) scale(1.077,1)" font-size="14" fill="#1a1a1a" stroke="#1a1a1a" stroke-width="0.42">i</text>
<text transform="translate(446.77,952.00) scale(0.658,1)" font-size="14" fill="#1a1a1a" stroke="#1a1a1a" stroke-width="0.42">(</text>
<text transform="translate(450.24,952.00) scale(0.733,1)" font-size="14" fill="#1a1a1a" stroke="#1a1a1a" stroke-width="0.42">n</text>
<text transform="translate(458.03,952.60) scale(0.809,0.72)" font-size="14" fill="#1a1a1a" stroke="#1a1a1a" stroke-width="0.42">=</text>
<text transform="translate(469.68,952.00) scale(0.642,1)" font-size="14" fill="#1a1a1a" stroke="#1a1a1a" stroke-width="0.42">3</text>
<text transform="translate(475.32,952.00) scale(0.811,1)" font-size="14" fill="#1a1a1a" stroke="#1a1a1a" stroke-width="0.42">)</text>
<path d="M145.0,952.0 V942.6 L144.4,942.6 Q143.9,944.2 142.4,944.8" fill="none" stroke="#1a1a1a" stroke-width="1.35"/>
<line x1="418.50" y1="682.60" x2="484.20" y2="682.60" stroke="#555" stroke-width="1.4" />
<line x1="418.50" y1="682.60" x2="418.50" y2="690.00" stroke="#555" stroke-width="1.4" />
<line x1="484.20" y1="682.60" x2="484.20" y2="801.40" stroke="#555" stroke-width="1.4" />
<line x1="418.50" y1="708.20" x2="461.20" y2="708.20" stroke="#555" stroke-width="1.4" />
<line x1="418.50" y1="708.20" x2="418.50" y2="715.20" stroke="#555" stroke-width="1.4" />
<line x1="461.20" y1="708.20" x2="461.20" y2="800.80" stroke="#555" stroke-width="1.4" />
<g transform="translate(451.40,676.50) scale(1.11,1)"><text x="-16.82" y="0" font-size="11" fill="#1a1a1a" >0.0090</text></g>
<g transform="translate(440.00,701.50) scale(1.11,1)"><text x="-16.82" y="0" font-size="11" fill="#1a1a1a" >0.0244</text></g>
</svg>
</body></html>
